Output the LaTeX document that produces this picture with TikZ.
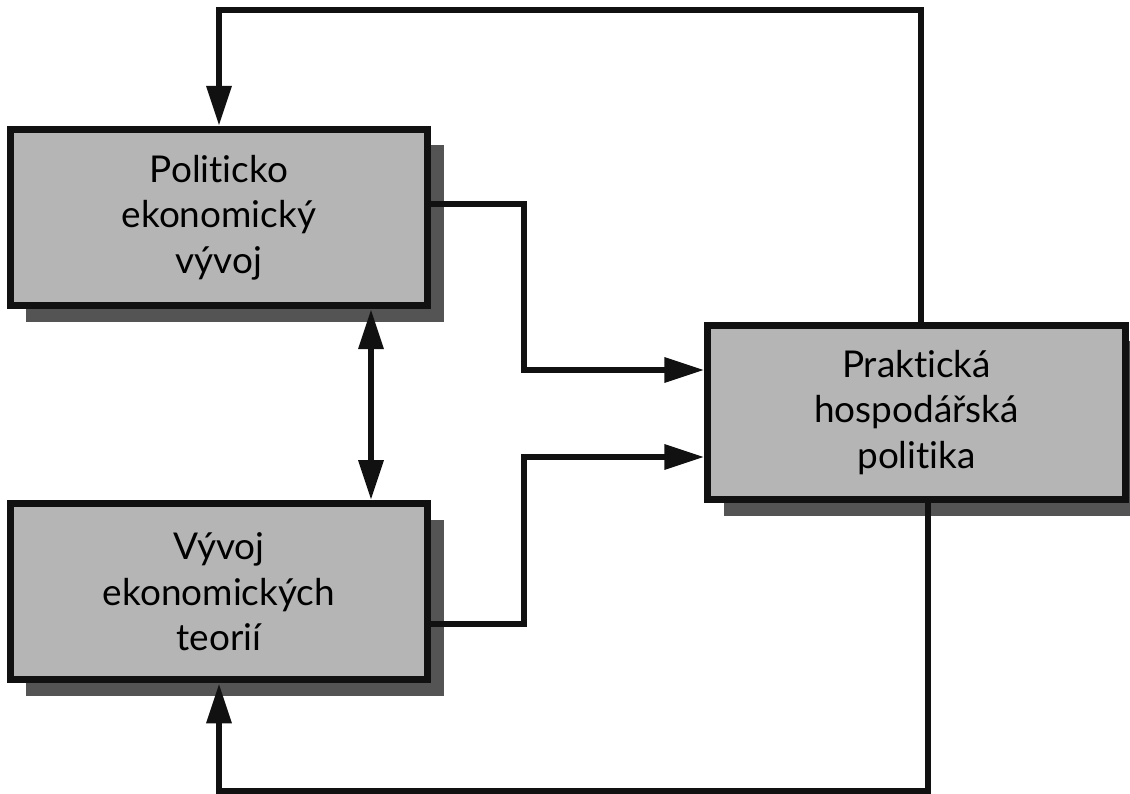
\documentclass[tikz,border=0pt]{standalone}
\usepackage{fontspec}
\setmainfont{Lato}[Ligatures=NoCommon]
\usetikzlibrary{positioning,calc,shadows}
\usetikzlibrary{arrows.meta}

\definecolor{boxgray}{RGB}{181,181,181}
\definecolor{shadowgray}{RGB}{84,84,84}
\definecolor{linegray}{RGB}{17,17,17}

\tikzset{
  block/.style={rectangle, draw=linegray, line width=2pt, fill=boxgray,
    minimum width=4.17cm, minimum height=1.76cm, align=center,
    font=\fontsize{10.5pt}{12.9pt}\selectfont,
    drop shadow={shadow xshift=0.16cm, shadow yshift=-0.16cm, fill=shadowgray, opacity=1}},
  conn/.style={draw=linegray, line width=1.8pt, -{Triangle[length=0.4cm,width=0.24cm]}}
}

\begin{document}
\begin{tikzpicture}[x=0.01cm, y=-0.01cm]
				\useasboundingbox (0,0) rectangle (1130,794);
				\node[block] (development) at (219,217.5) {Politicko\\ekonomický\\vývoj};
				\node[block, below=1.91cm of development] (theories) {Vývoj\\ekonomických\\teorií};
				\node[block, minimum height=1.74cm] (policy) at (916.5,412.5) {Praktická\\hospodářská\\politika};
				% turning points of the connectors
				\coordinate (topturn) at (921,10);
				\coordinate (bottomturn) at (928,791);
				\coordinate (inA) at (524,370);
				\coordinate (inB) at (524,457);
				\coordinate (both) at (371,0);
				\draw[conn] (policy.north -| topturn) -- (topturn) -| (development.north);
				\draw[conn] (policy.south -| bottomturn) -- (bottomturn) -| (theories.south);
				\draw[conn] ([yshift=0.135cm]development.east) -| (inA) -- (inA -| policy.west);
				\draw[conn] ([yshift=-0.325cm]theories.east) -| (inB) -- (inB -| policy.west);
				\draw[conn, {Triangle[length=0.4cm,width=0.24cm]}-{Triangle[length=0.4cm,width=0.24cm]}] (development.south -| both) -- (theories.north -| both);
			\end{tikzpicture}
\end{document}
